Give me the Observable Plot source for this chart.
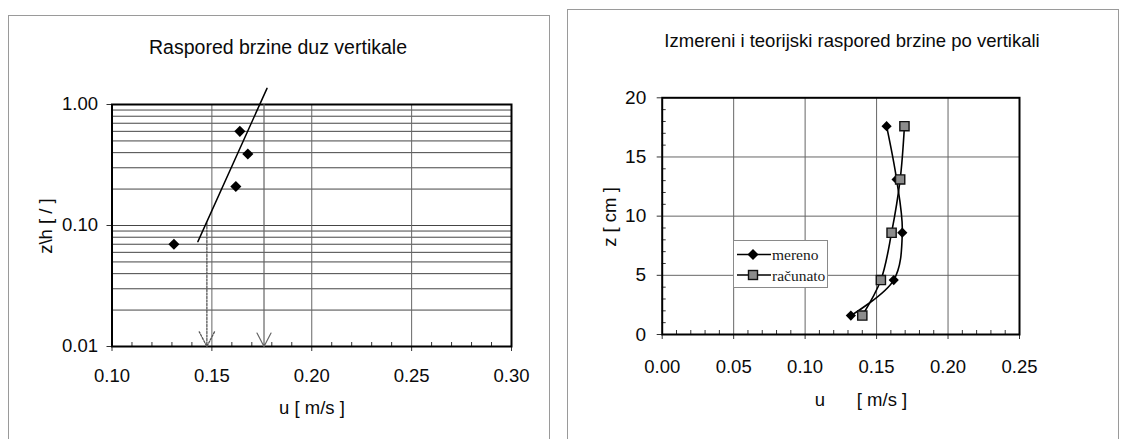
<!DOCTYPE html>
<html><head><meta charset="utf-8">
<script src="https://cdn.jsdelivr.net/npm/d3@7"></script>
<script src="https://cdn.jsdelivr.net/npm/@observablehq/plot@0.6"></script>
<style>
html,body{margin:0;padding:0;background:#fff;}
#wrap{position:relative;width:1122px;height:439px;overflow:hidden;font-family:"Liberation Sans",Arial,sans-serif;color:#0a0a0a;}
.box{position:absolute;border:1px solid #9a9a9a;}
.t{position:absolute;white-space:pre;transform:translate(-50%,-50%);line-height:1;}
.rot{transform:translate(-50%,-50%) rotate(-90deg);}
.plot{position:absolute;top:0;}
</style></head><body><div id="wrap"></div>
<script>
// ---- left chart data (z/h log profile) ----
const profileZH = [0.07, 0.21, 0.39, 0.60];
const profileU  = [0.131, 0.162, 0.168, 0.164];
const fitZH = [0.0735, 1.36];
const fitU  = [0.143, 0.1776];
const arrowU   = [0.1475, 0.1761];
const arrowTop = [0.105, 1.0];
const arrowBottom = [0.01, 0.01];
const arrowDotted = [true, false];
const leftXTicks = [0.10, 0.15, 0.20, 0.25, 0.30];
const leftYTicks = [0.01, 0.1, 1];
const leftGridX = [0.15, 0.20, 0.25];
const leftGridY = [0.02,0.03,0.04,0.05,0.06,0.07,0.08,0.09,0.1,0.2,0.3,0.4,0.5,0.6,0.7,0.8,0.9];
const leftMinorX = [0.11,0.12,0.13,0.14,0.16,0.17,0.18,0.19,0.21,0.22,0.23,0.24,0.26,0.27,0.28,0.29];

// ---- right chart data (measured vs computed) ----
const zCm       = [1.6, 4.6, 8.6, 13.1, 17.6];
const uMereno   = [0.132, 0.162, 0.168, 0.164, 0.157];
const uRacunato = [0.140, 0.153, 0.1605, 0.1665, 0.1695];
const rightXTicks = [0, 0.05, 0.10, 0.15, 0.20, 0.25];
const rightYTicks = [0, 5, 10, 15, 20];
const rightGridX = [0.05, 0.10, 0.15, 0.20];
const rightGridY = [5, 10, 15];
const rightMinorX = [0.01,0.02,0.03,0.04,0.06,0.07,0.08,0.09,0.11,0.12,0.13,0.14,0.16,0.17,0.18,0.19,0.21,0.22,0.23,0.24];
const rightMinorY = [1,2,3,4,6,7,8,9,11,12,13,14,16,17,18,19];

const FONT = '"Liberation Sans", Arial, sans-serif';
const wrap = document.getElementById("wrap");

function addBox(l,t,w,h){const d=document.createElement("div");d.className="box";Object.assign(d.style,{left:l+"px",top:t+"px",width:w+"px",height:h+"px"});wrap.appendChild(d);}
function addText(txt,x,y,size,rot){const d=document.createElement("div");d.className="t"+(rot?" rot":"");d.textContent=txt;Object.assign(d.style,{left:x+"px",top:y+"px",fontSize:size+"px"});wrap.appendChild(d);}

addBox(8,15,540,460);
addBox(567,9,550,460);

// ---- left plot ----
const W1=560,H1=439,mL1=111.5,mR1=49,mT1=104,mB1=93;
const fh1=H1-mT1-mB1;
const pts1 = profileU.map((u,i)=>({u, zh: profileZH[i]}));
const fit1 = fitU.map((u,i)=>({u, zh: fitZH[i]}));
const arr1 = arrowU.map((u,i)=>({u, top: arrowTop[i], bottom: arrowBottom[i], dotted: arrowDotted[i]}));
const left = Plot.plot({
  width:W1,height:H1,marginLeft:mL1,marginRight:mR1,marginTop:mT1,marginBottom:mB1,
  style:{fontFamily:FONT,background:"transparent",color:"#0a0a0a",overflow:"visible"},
  x:{domain:[0.1,0.3]},
  y:{type:"log",domain:[0.01,1]},
  marks:[
    Plot.ruleY(leftGridY,{stroke:"#454545",strokeWidth:1}),
    Plot.ruleX(leftGridX,{stroke:"#666",strokeWidth:1}),
    Plot.ruleX(leftMinorX,{insetTop:fh1-4,stroke:"#333",strokeWidth:1}),
    Plot.axisX(leftXTicks,{tickSize:5,tickPadding:17,tickFormat:d3.format(".2f"),label:null,fontSize:18.5,stroke:"#333"}),
    Plot.axisY(leftYTicks,{tickSize:5,tickPadding:9,tickFormat:d3.format(".2f"),label:null,fontSize:18.5,stroke:"#333"}),
    Plot.frame({stroke:"#000",strokeWidth:2}),
    Plot.arrow(arr1.filter(d=>d.dotted),{x1:"u",x2:"u",y1:"top",y2:"bottom",stroke:"#555",strokeWidth:1.3,strokeDasharray:"2,1.5",headLength:19,headAngle:55}),
    Plot.arrow(arr1.filter(d=>!d.dotted),{x1:"u",x2:"u",y1:"top",y2:"bottom",stroke:"#666",strokeWidth:1.2,headLength:19,headAngle:55}),
    Plot.line(fit1,{x:"u",y:"zh",stroke:"#000",strokeWidth:1.5}),
    Plot.dot(pts1,{x:"u",y:"zh",symbol:"diamond2",r:5,fill:"#000"})
  ]
});
left.classList.add("plot"); left.style.left="0px";
wrap.appendChild(left);

// ---- right plot ----
const W2=562,H2=439,mL2=101.7,mR2=103,mT2=97.3,mB2=105;
const fh2=H2-mT2-mB2, fw2=W2-mL2-mR2;
const mer = zCm.map((z,i)=>({z,u:uMereno[i]}));
const rac = zCm.map((z,i)=>({z,u:uRacunato[i]}));
const right = Plot.plot({
  width:W2,height:H2,marginLeft:mL2,marginRight:mR2,marginTop:mT2,marginBottom:mB2,
  style:{fontFamily:FONT,background:"transparent",color:"#0a0a0a",overflow:"visible"},
  x:{domain:[0,0.25]},
  y:{domain:[0,20]},
  marks:[
    Plot.ruleX(rightGridX,{stroke:"#666",strokeWidth:1}),
    Plot.ruleY(rightGridY,{stroke:"#666",strokeWidth:1}),
    Plot.ruleX(rightMinorX,{insetTop:fh2-4,stroke:"#333",strokeWidth:1}),
    Plot.ruleY(rightMinorY,{insetRight:fw2-4,stroke:"#333",strokeWidth:1}),
    Plot.axisX(rightXTicks,{tickSize:5,tickPadding:20,tickFormat:d3.format(".2f"),label:null,fontSize:18.5,stroke:"#333"}),
    Plot.axisY(rightYTicks,{tickSize:5,tickPadding:11,tickFormat:d3.format("d"),label:null,fontSize:19,stroke:"#333"}),
    Plot.frame({stroke:"#000",strokeWidth:2}),
    Plot.line(mer,{x:"u",y:"z",curve:"catmull-rom",stroke:"#000",strokeWidth:1.6}),
    Plot.line(rac,{x:"u",y:"z",curve:"catmull-rom",stroke:"#000",strokeWidth:1.6}),
    Plot.dot(mer,{x:"u",y:"z",symbol:"diamond2",r:4.6,fill:"#000"}),
    Plot.dot(rac,{x:"u",y:"z",symbol:"square",r:5.2,fill:"#8c8c8c",stroke:"#111",strokeWidth:1.4})
  ]
});
right.classList.add("plot"); right.style.left="560px";
wrap.appendChild(right);

// legend
const leg=document.createElement("div");
Object.assign(leg.style,{position:"absolute",left:"733px",top:"240px",width:"93px",height:"46px",background:"#fff",border:"1px solid #8a8a8a"});
leg.innerHTML=`<svg width="93" height="46" style="position:absolute;left:0;top:0;font-family:'Liberation Serif','Times New Roman',serif;font-size:15.5px">
<line x1="3" x2="37" y1="13.5" y2="13.5" stroke="#000" stroke-width="1.6"/>
<path d="M19,8L24.5,13.5L19,19L13.5,13.5Z" fill="#000"/>
<text x="38" y="13.5" dominant-baseline="central" fill="#1a1a1a">mereno</text>
<line x1="3" x2="37" y1="34" y2="34" stroke="#000" stroke-width="1.6"/>
<rect x="14.5" y="29.5" width="9" height="9" fill="#8c8c8c" stroke="#111" stroke-width="1.4"/>
<text x="38" y="34" dominant-baseline="central" fill="#1a1a1a">računato</text></svg>`;
wrap.appendChild(leg);

// titles and axis labels
addText("Raspored brzine duz vertikale",278,48,19.5);
addText("z\\h [ / ]",46,226,18.5,true);
addText("u [ m/s ]",312,408,18.5);
addText("Izmereni i teorijski raspored brzine po vertikali",852,41,18.5);
addText("z [ cm ]",610,217,18.5,true);
addText("u",820,400,18.5);
addText("[ m/s ]",882,400,18.5);
</script></body></html>
